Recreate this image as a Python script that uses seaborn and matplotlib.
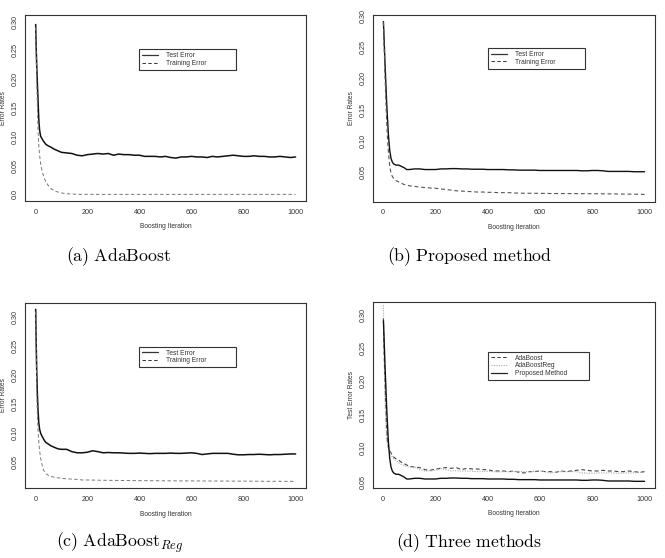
import matplotlib
matplotlib.use("Agg")
import matplotlib.pyplot as plt
import seaborn as sns
import pandas as pd
from matplotlib.lines import Line2D

# ---------------- data ----------------
iters = [1, 3, 5, 7, 10, 13, 16, 20, 25, 30, 35, 40, 50, 60, 70, 80, 90, 100,
         120, 140, 160, 180, 200, 220, 240, 260, 280, 300, 320, 340, 360, 380, 400,
         420, 440, 460, 480, 500, 520, 540, 560, 580, 600, 620, 640, 660, 680, 700,
         720, 740, 760, 780, 800, 820, 840, 860, 880, 900, 920, 940, 960, 980, 1000]

ada_test = [0.295, 0.255, 0.225, 0.200, 0.165, 0.130, 0.112, 0.101, 0.097, 0.093, 0.090, 0.087,
            0.084, 0.082, 0.079, 0.077, 0.075, 0.073,
            0.072, 0.071, 0.068, 0.067, 0.069, 0.070, 0.071, 0.070, 0.071, 0.068, 0.070, 0.069,
            0.069, 0.068, 0.068, 0.066, 0.066, 0.066, 0.065, 0.066, 0.064, 0.063, 0.065, 0.065,
            0.066, 0.065, 0.065, 0.064, 0.066, 0.065, 0.066, 0.067, 0.068, 0.067, 0.066, 0.066,
            0.067, 0.066, 0.066, 0.065, 0.065, 0.066, 0.065, 0.064, 0.065]
ada_train = [0.290, 0.240, 0.200, 0.165, 0.110, 0.085, 0.068, 0.054, 0.042, 0.034, 0.027, 0.022,
             0.015, 0.010, 0.007, 0.005, 0.0035, 0.0025,
             0.0012, 0.0006, 0.0002, 0.0, 0.0, 0.0, 0.0, 0.0, 0.0, 0.0, 0.0, 0.0,
             0.0, 0.0, 0.0, 0.0, 0.0, 0.0, 0.0, 0.0, 0.0, 0.0, 0.0, 0.0,
             0.0, 0.0, 0.0, 0.0, 0.0, 0.0, 0.0, 0.0, 0.0, 0.0, 0.0, 0.0,
             0.0, 0.0, 0.0, 0.0, 0.0, 0.0, 0.0, 0.0, 0.0]

prop_test = [0.291, 0.270, 0.248, 0.225, 0.195, 0.165, 0.140, 0.110, 0.085, 0.072, 0.066, 0.063,
             0.061, 0.061, 0.059, 0.057, 0.054, 0.054,
             0.055, 0.055, 0.054, 0.054, 0.054, 0.055, 0.055, 0.0555, 0.0555, 0.055, 0.055, 0.0545,
             0.0545, 0.0545, 0.054, 0.054, 0.054, 0.054, 0.0535, 0.0535, 0.053, 0.053, 0.053, 0.053,
             0.0525, 0.0525, 0.0525, 0.0525, 0.0525, 0.0525, 0.0525, 0.0525, 0.052, 0.052, 0.0525, 0.0525,
             0.052, 0.051, 0.051, 0.051, 0.051, 0.051, 0.0505, 0.0505, 0.0505]
prop_train = [0.290, 0.262, 0.235, 0.205, 0.170, 0.135, 0.108, 0.082, 0.060, 0.048, 0.043, 0.040,
              0.036, 0.034, 0.032, 0.030, 0.029, 0.028,
              0.027, 0.026, 0.025, 0.0245, 0.024, 0.023, 0.022, 0.021, 0.020, 0.0195, 0.019, 0.0185,
              0.018, 0.018, 0.0175, 0.0175, 0.017, 0.017, 0.017, 0.0165, 0.0162, 0.016, 0.016, 0.016,
              0.0158, 0.0158, 0.0156, 0.0156, 0.0155, 0.0155, 0.0155, 0.0154, 0.0154, 0.0153, 0.0153, 0.0152,
              0.0151, 0.015, 0.015, 0.0148, 0.0147, 0.0146, 0.0145, 0.0143, 0.0142]

reg_test = [0.314, 0.255, 0.210, 0.175, 0.140, 0.118, 0.107, 0.100, 0.095, 0.091, 0.087, 0.084,
            0.081, 0.078, 0.076, 0.074, 0.0725, 0.072,
            0.072, 0.068, 0.066, 0.066, 0.067, 0.0695, 0.068, 0.066, 0.0665, 0.066, 0.066, 0.0655,
            0.065, 0.065, 0.0655, 0.065, 0.0645, 0.065, 0.065, 0.065, 0.0655, 0.065, 0.065, 0.0655,
            0.066, 0.065, 0.063, 0.064, 0.065, 0.065, 0.065, 0.065, 0.0635, 0.0625, 0.0625, 0.063,
            0.063, 0.0635, 0.063, 0.0625, 0.063, 0.063, 0.0635, 0.064, 0.064]
reg_train = [0.310, 0.240, 0.180, 0.140, 0.105, 0.085, 0.070, 0.057, 0.046, 0.038, 0.033, 0.030,
             0.027, 0.025, 0.024, 0.023, 0.0225, 0.022,
             0.021, 0.0205, 0.020, 0.019, 0.019, 0.0188, 0.0186, 0.0185, 0.0184, 0.0183, 0.0182, 0.018,
             0.018, 0.0179, 0.0178, 0.0178, 0.0177, 0.0177, 0.0176, 0.0176, 0.0175, 0.0175, 0.0174, 0.0174,
             0.0174, 0.0173, 0.0173, 0.0172, 0.0172, 0.0172, 0.0171, 0.0171, 0.017, 0.017, 0.017, 0.0169,
             0.0169, 0.0168, 0.0168, 0.0167, 0.0167, 0.0167, 0.0166, 0.0166, 0.0166]

xticks = [0, 200, 400, 600, 800, 1000]
yticks_a = [0.0, 0.05, 0.10, 0.15, 0.20, 0.25, 0.30]
yticklabels_a = ["0.0", "0.05", "0.10", "0.15", "0.20", "0.25", "0.30"]
yticks_b = [0.05, 0.10, 0.15, 0.20, 0.25, 0.30]
yticklabels_b = ["0.05", "0.10", "0.15", "0.20", "0.25", "0.30"]

captions = [r"$\mathrm{(a)\ AdaBoost}$", r"$\mathrm{(b)\ Proposed\ method}$",
            r"$\mathrm{(c)\ AdaBoost}_{Reg}$", r"$\mathrm{(d)\ Three\ methods}$"]

# ---------------- style ----------------
sns.set_style("white")
plt.rcParams["font.family"] = ["Liberation Sans", "DejaVu Sans"]
plt.rcParams["mathtext.fontset"] = "cm"

W, H = 665, 558
fig = plt.figure(figsize=(W / 100, H / 100), dpi=100)

def px_axes(left, top, right, bottom):
    return fig.add_axes([left / W, 1 - bottom / H, (right - left) / W, (bottom - top) / H])

ax_a = px_axes(25, 15, 306, 201)
ax_b = px_axes(372.7, 15, 655, 201.7)
ax_c = px_axes(25, 302.7, 306, 488.3)
ax_d = px_axes(372.7, 301.7, 655, 488)

FS = 4.8
TFS = 5.2
DASH = (3.5, 2.5)

def draw(ax, specs):
    for vals, color, ls, lw, label in specs:
        df = pd.DataFrame({"iter": iters, "err": vals})
        sns.lineplot(data=df, x="iter", y="err", ax=ax, color=color, lw=lw,
                     label=label, legend=False)
    lines = ax.get_lines()
    for line, (vals, color, ls, lw, label) in zip(lines, specs):
        if ls == "dashed":
            line.set_dashes(DASH)
        elif ls == "dotted":
            line.set_dashes((1.0, 1.2))

def style(ax, ylim, yticks, ylabels, ylabel):
    ax.set_xlim(-40, 1040)
    ax.set_ylim(*ylim)
    ax.set_xticks(xticks)
    ax.set_xticklabels([str(t) for t in xticks])
    ax.set_yticks(yticks)
    ax.set_yticklabels(ylabels, rotation=90, va="center")
    ax.tick_params(axis="both", direction="out", length=3, width=0.6, colors="#333333",
                   labelsize=TFS, labelcolor="#333333")
    ax.tick_params(axis="x", pad=2.5)
    ax.tick_params(axis="y", pad=1.6)
    ax.set_xlabel("Boosting Iteration", fontsize=FS, color="#333333", labelpad=5.5)
    ax.set_ylabel(ylabel, fontsize=FS, color="#333333", labelpad=3.2)
    for s in ax.spines.values():
        s.set_visible(True)
        s.set_linewidth(0.8)
        s.set_color("#333333")

def legend(ax, handles, labels, x0, x1, ytop):
    leg = ax.legend(handles, labels, loc="upper left",
                    bbox_to_anchor=(x0, ytop - 0.3, x1 - x0, 0.3), mode="expand",
                    fontsize=FS, frameon=True, fancybox=False, framealpha=1,
                    handlelength=2.4, handletextpad=1.2, labelspacing=0.12,
                    borderpad=0.45, borderaxespad=0)
    leg.get_frame().set_edgecolor("#333333")
    leg.get_frame().set_linewidth(0.8)
    for t in leg.get_texts():
        t.set_color("#333333")

def h(color, ls, lw):
    ln = Line2D([0], [0], color=color, lw=lw)
    if ls == "dashed":
        ln.set_dashes(DASH)
    elif ls == "dotted":
        ln.set_dashes((1.0, 1.2))
    return ln

TEST_C = "#111111"
TRAIN_C = "#777777"

# (a)
draw(ax_a, [(ada_test, TEST_C, "solid", 1.1, "Test Error"),
            (ada_train, TRAIN_C, "dashed", 0.7, "Training Error")])
style(ax_a, (-0.0115, 0.3115), yticks_a, yticklabels_a, "Error Rates")
legend(ax_a, [h("#333333", "solid", 0.9), h("#333333", "dashed", 0.7)],
       ["Test Error", "Training Error"], 0.406, 0.751, 0.817)

# (b)
draw(ax_b, [(prop_test, TEST_C, "solid", 1.0, "Test Error"),
            (prop_train, "#555555", "dashed", 0.8, "Training Error")])
style(ax_b, (0.0025, 0.3015), yticks_b, yticklabels_b, "Error Rates")
legend(ax_b, [h("#333333", "solid", 0.9), h("#333333", "dashed", 0.7)],
       ["Test Error", "Training Error"], 0.407, 0.752, 0.824)

# (c)
draw(ax_c, [(reg_test, TEST_C, "solid", 1.1, "Test Error"),
            (reg_train, TRAIN_C, "dashed", 0.7, "Training Error")])
style(ax_c, (0.0046, 0.3255), yticks_b, yticklabels_b, "Error Rates")
legend(ax_c, [h("#333333", "solid", 0.9), h("#333333", "dashed", 0.7)],
       ["Test Error", "Training Error"], 0.406, 0.751, 0.763)

# (d)
draw(ax_d, [(ada_test, "#444444", "dashed", 0.8, "AdaBoost"),
            (reg_test, "#aaaaaa", "dotted", 0.8, "AdaBoostReg"),
            (prop_test, TEST_C, "solid", 1.0, "Proposed Method")])
style(ax_d, (0.0405, 0.3195), yticks_b, yticklabels_b, "Test Error Rates")
legend(ax_d, [h("#333333", "dashed", 0.7), h("#aaaaaa", "dotted", 0.8), h("#222222", "solid", 0.9)],
       ["AdaBoost", "AdaBoostReg", "Proposed Method"], 0.407, 0.766, 0.732)

# captions
cap_pos = [(118.5, 257), (469.5, 257), (120, 543), (469.5, 543)]
for (cx, cy), txt in zip(cap_pos, captions):
    fig.text(cx / W, 1 - cy / H, txt, ha="center", va="center", fontsize=12.8, color="black")

fig.savefig("out.png", dpi=100)
